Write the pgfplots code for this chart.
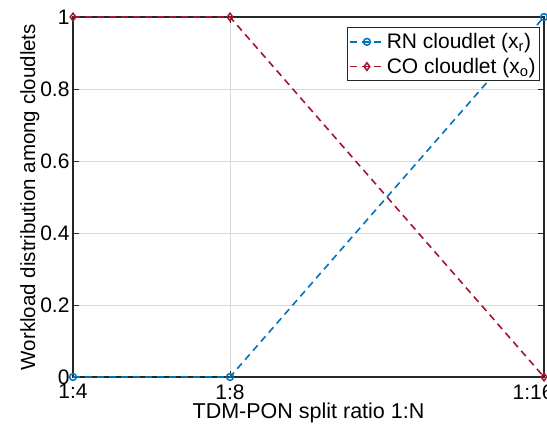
\documentclass[border=0pt]{standalone}
\usepackage{fontspec}
\setmainfont{Liberation Sans}
\usepackage{pgfplots}
\pgfplotsset{compat=1.18}
\definecolor{mblue}{rgb}{0,0.447,0.741}
\definecolor{mred}{rgb}{0.635,0.078,0.184}

\begin{document}
\begin{tikzpicture}
\begin{axis}[
  name=ax,
  scale only axis, width=471pt, height=360pt,
  xmin=4, xmax=16, ymin=0, ymax=1,
  xtick={4,8,16}, xticklabels={1:4,1:8,\hspace*{-22pt}1:16},
  ytick={0,0.2,0.4,0.6,0.8,1}, yticklabels={0,0.2,0.4,0.6,0.8,1},
  grid=major, major grid style={black!15, line width=0.9pt},
  axis line style={line width=1.2pt, black!85},
  tick align=inside, major tick length=6pt, tick style={black!85, line width=1pt},
  font=\fontsize{21}{25}\selectfont,
  xticklabel style={yshift=-4pt},
  xlabel={TDM-PON split ratio 1:N},
  ylabel={Workload distribution among cloudlets},
  xlabel style={yshift=3pt, font=\fontsize{21.5}{25}\selectfont},
  ylabel style={yshift=-6pt, font=\fontsize{20.5}{25}\selectfont},
  clip=false,
  legend style={at={(rel axis cs:1,1)}, anchor=north east, xshift=-4pt, yshift=-10pt,
    draw=black!85, line width=1pt, inner xsep=2pt, inner ysep=4pt, row sep=4pt,
    font=\fontsize{21}{25}\selectfont, cells={anchor=west}},
  legend image code/.code={
    \draw[#1, mark repeat=2, mark phase=2] plot coordinates {(0cm,0cm) (0.6cm,0cm) (1.2cm,0cm)};
  },
]
\addplot[mblue, line width=1.6pt, dash pattern=on 7pt off 5pt, mark=o, mark size=3.4pt,
  mark options={solid, line width=1.5pt}] coordinates {(4,0) (8,0) (16,1)};
\addlegendentry{RN cloudlet (x\textsubscript{r})}
\addplot[mred, line width=1.6pt, dash pattern=on 7pt off 5pt, mark=diamond, mark size=3.8pt,
  mark options={solid, line width=1.5pt}] coordinates {(4,1) (8,1) (16,0)};
\addlegendentry{CO cloudlet (x\textsubscript{o})}
\end{axis}
\pgfresetboundingbox
\path[use as bounding box] ([shift={(-73pt,-47pt)}]ax.south west) rectangle ([shift={(3pt,17pt)}]ax.north east);
\end{tikzpicture}
\end{document}
